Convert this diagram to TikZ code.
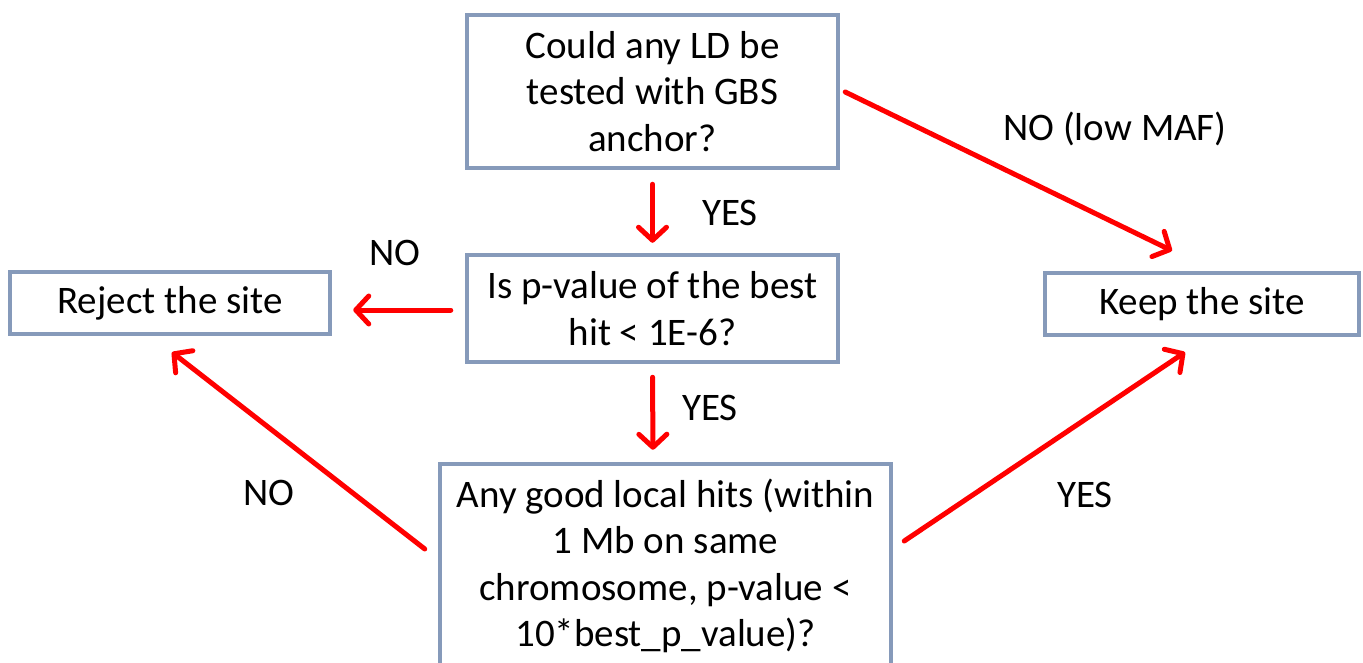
\documentclass[tikz,border=0pt]{standalone}
\usepackage{fontspec}
\setmainfont{Carlito}
\usetikzlibrary{arrows.meta}
\definecolor{boxborder}{RGB}{134,154,186}
\definecolor{arrred}{RGB}{255,0,0}
\begin{document}
\begin{tikzpicture}[x=1pt,y=-1pt,
  box/.style={draw=boxborder, line width=4.5pt, fill=white, rectangle, align=center,
    inner sep=0pt, font=\fontsize{39}{46.5}\selectfont},
  arr/.style={draw=arrred, line width=5pt, line cap=round,
    -{Straight Barb[length=13pt,width=28pt,round]}},
  lbl/.style={font=\fontsize{39}{46.5}\selectfont, inner sep=0pt}]
\clip (0,0) rectangle (1363,663);
\fill[white] (0,0) rectangle (1363,663);
\node[box, minimum width=371pt, minimum height=153pt] (top) at (652.5,91.5)
  {Could any LD be\\tested with GBS\\anchor?};
\node[box, minimum width=371pt, minimum height=107pt] (mid) at (652.5,308.5)
  {Is p-value of the best\\hit < 1E-6?};
\node[box, minimum width=320pt, minimum height=62pt] (reject) at (170,303)
  {Reject the site};
\node[box, minimum width=314pt, minimum height=62pt] (keep) at (1202,304)
  {Keep the site};
\node[box, minimum width=451pt, minimum height=204pt] (bot) at (665.5,566)
  {Any good local hits (within\\1 Mb on same\\chromosome, p-value <\\10*best\_p\_value)?};
% connectors
\draw[arr, shorten <=14pt, shorten >=10pt] (top.south) -- (mid.north);
\draw[arr, shorten <=13pt, shorten >=12pt] (mid.south) -- ([xshift=-12.5pt]bot.north);
\draw[arr, shorten <=14pt, shorten >=21pt] ([yshift=-1.5pt]mid.west) -- ([yshift=-1.5pt]mid.west -| reject.east);
\draw[arr] ([shift={(5,0.5)}]top.east) -- ([shift={(-30,-20)}]keep.north);
\draw[arr] ([shift={(-13,-17)}]bot.west) -- ([shift={(2,16)}]reject.south);
\draw[arr] ([shift={(11,-25)}]bot.east) -- ([shift={(-17,15)}]keep.south);
% labels
\node[lbl] (y1) at (730,213) {YES};
\node[lbl] (y2) at (710,408) {YES};
\node[lbl] (n1) at (395,253) {NO};
\node[lbl] (n2) at (1115,129) {NO (low MAF)};
\node[lbl] (n3) at (269,493) {NO};
\node[lbl] (y3) at (1085,495) {YES};
\end{tikzpicture}
\end{document}
